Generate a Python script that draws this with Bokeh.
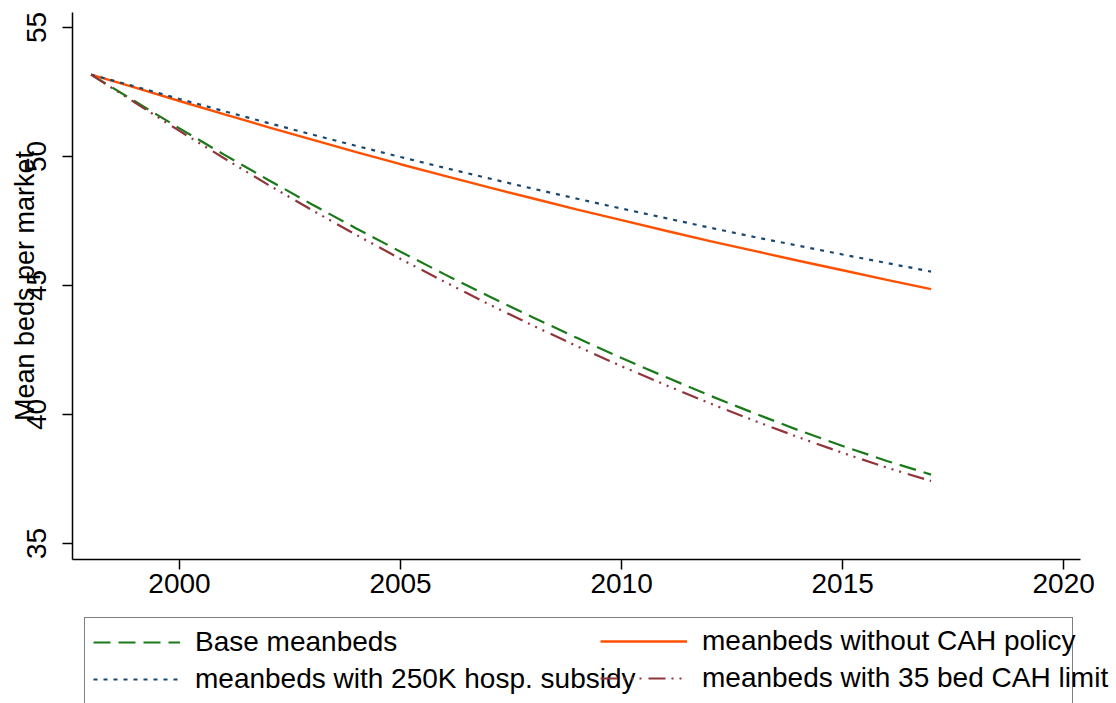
from bokeh.plotting import figure
from bokeh.models import Legend, LegendItem, FixedTicker, Range1d
from bokeh.embed import file_html
from bokeh.resources import INLINE

years = list(range(1998, 2018))
base = [53.17, 52.13, 51.09, 50.08, 49.10, 48.14, 47.21, 46.31, 45.43, 44.58,
        43.76, 42.96, 42.19, 41.45, 40.73, 40.05, 39.39, 38.78, 38.20, 37.67]
no_cah = [53.17, 52.67, 52.15, 51.64, 51.14, 50.65, 50.17, 49.70, 49.25, 48.80,
          48.37, 47.94, 47.53, 47.12, 46.72, 46.34, 45.96, 45.59, 45.22, 44.86]
subsidy = [53.17, 52.71, 52.23, 51.76, 51.30, 50.85, 50.41, 49.98, 49.56, 49.15,
           48.75, 48.36, 47.98, 47.61, 47.24, 46.88, 46.54, 46.20, 45.87, 45.54]
cah35 = [53.17, 52.08, 50.99, 49.94, 48.91, 47.92, 46.96, 46.03, 45.14, 44.27,
         43.44, 42.64, 41.87, 41.14, 40.43, 39.76, 39.12, 38.51, 37.94, 37.42]

series_labels = ["Base meanbeds", "meanbeds without CAH policy",
                 "meanbeds with 250K hosp. subsidy", "meanbeds with 35 bed CAH limit"]
x_ticks = [2000, 2005, 2010, 2015, 2020]
y_ticks = [35, 40, 45, 50, 55]
y_title = "Mean beds per market"

FONT = "Liberation Sans"
styles = [
    dict(line_color="#1a7a1a", line_width=2.2, line_dash="17 8"),
    dict(line_color="#ff5000", line_width=2.4, line_dash="solid"),
    dict(line_color="#1a476f", line_width=2.2, line_dash="4 6"),
    dict(line_color="#90353b", line_width=2.2, line_dash="17 6 2 6 2 6 2 7"),
]
series = [base, no_cah, subsidy, cah35]

W = 1116

# ---------------- main chart ----------------
p = figure(width=W, height=605, output_backend="svg", toolbar_location=None,
           x_range=Range1d(1997.58, 2020.38), y_range=Range1d(34.38, 55.58),
           min_border_left=72, min_border_right=36, min_border_top=12,
           min_border_bottom=46)
p.outline_line_color = None
p.background_fill_color = "white"
p.border_fill_color = "white"
p.xgrid.grid_line_color = None
p.ygrid.grid_line_color = None

for ax in (p.xaxis[0], p.yaxis[0]):
    ax.axis_line_width = 1.5
    ax.axis_line_color = "black"
    ax.major_tick_line_width = 1.5
    ax.major_tick_line_color = "black"
    ax.major_tick_out = 10
    ax.major_tick_in = 0
    ax.minor_tick_line_color = None
    ax.major_label_text_font = FONT
    ax.major_label_text_font_size = "28px"
    ax.major_label_text_color = "black"

p.xaxis.ticker = FixedTicker(ticks=x_ticks)
p.yaxis.ticker = FixedTicker(ticks=y_ticks)
p.xaxis.major_label_standoff = 4
p.yaxis.major_label_standoff = 16
p.yaxis.major_label_orientation = "vertical"
p.yaxis.axis_label = y_title
p.yaxis.axis_label_text_font = FONT
p.yaxis.axis_label_text_font_size = "27px"
p.yaxis.axis_label_text_font_style = "normal"
p.yaxis.axis_label_text_color = "black"
p.yaxis.axis_label_standoff = -15

renderers = [p.line(years, s, **st) for s, st in zip(series, styles)]

# ---------------- legend strip (separate root, frame = whole canvas) ----------------
p2 = figure(width=W, height=98, output_backend="svg", toolbar_location=None,
            x_range=Range1d(0, 1), y_range=Range1d(0, 1),
            x_axis_type=None, y_axis_type=None,
            min_border_left=0, min_border_right=0, min_border_top=0,
            min_border_bottom=0)
p2.outline_line_color = None
p2.xgrid.grid_line_color = None
p2.ygrid.grid_line_color = None
p2.background_fill_color = "white"
p2.border_fill_color = "white"

# key renderers: same series, lying outside this strip's ranges (only their legend keys show)
keys = [p2.line(years, s, **st) for s, st in zip(series, styles)]

common = dict(orientation="vertical", padding=8, spacing=5, glyph_width=87,
              glyph_height=32, label_height=32, label_standoff=15, margin=0,
              label_text_font=FONT, label_text_font_size="28px",
              label_text_color="black")

legA = Legend(items=[LegendItem(label=series_labels[0], renderers=[keys[0]]),
                     LegendItem(label=series_labels[2], renderers=[keys[2]])],
              location=(84, -1), label_width=869,
              border_line_color="black", border_line_width=1.5,
              background_fill_color="white", background_fill_alpha=1.0, **common)
legB = Legend(items=[LegendItem(label=series_labels[1], renderers=[keys[1]]),
                     LegendItem(label=series_labels[3], renderers=[keys[3]])],
              location=(600, 9), border_line_color=None,
              background_fill_alpha=0.0, **common)
p2.add_layout(legA)
p2.add_layout(legB)

open("out.html", "w").write(file_html([p, p2], INLINE))
